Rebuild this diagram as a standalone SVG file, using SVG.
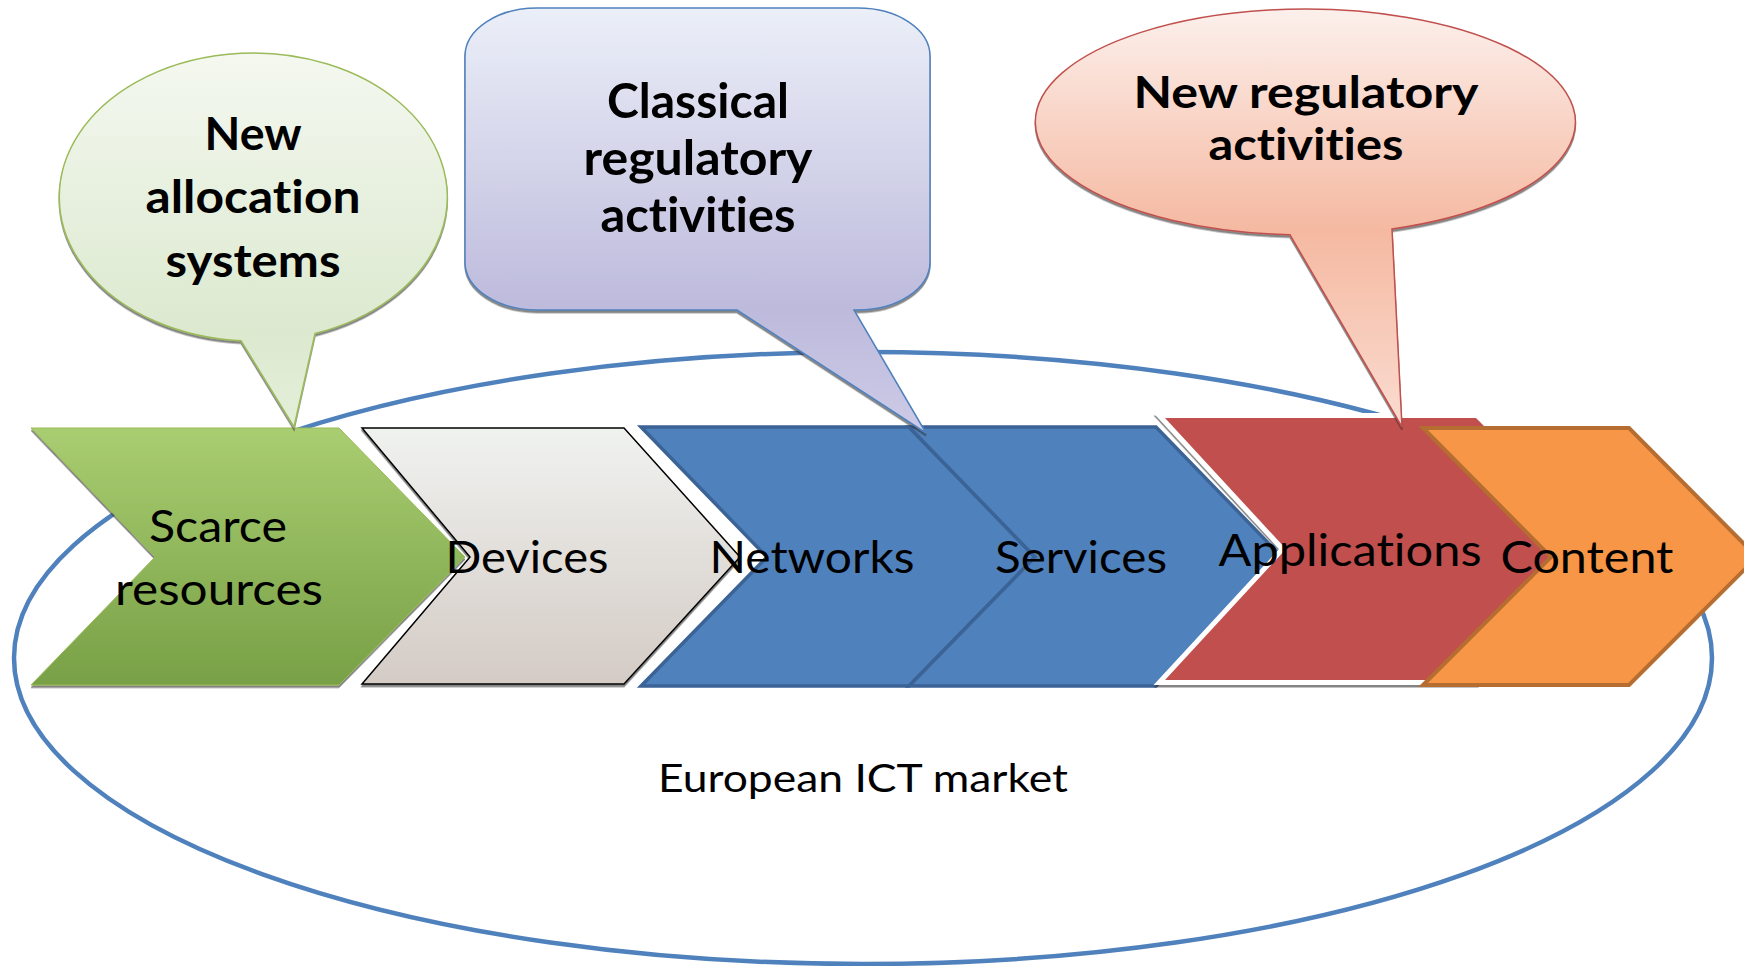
<svg xmlns="http://www.w3.org/2000/svg" width="1744" height="966" viewBox="0 0 1744 966">
<style>
.bt,.lt{font-family:Lato,"Liberation Sans",sans-serif;fill:#000;text-anchor:middle;font-variant-ligatures:none;font-feature-settings:"liga" 0,"clig" 0,"dlig" 0}
.bt{font-weight:bold}
.lt{font-weight:normal}
</style>
<defs>
<filter id="sh" x="-5%" y="-5%" width="110%" height="115%">
<feDropShadow dx="0" dy="2.5" stdDeviation="0.7" flood-color="#333" flood-opacity="0.6"/>
</filter>
<linearGradient id="gGreenB" x1="0" y1="0" x2="0" y2="1">
<stop offset="0" stop-color="#f4f8f0"/><stop offset="0.75" stop-color="#dce9cf"/><stop offset="1" stop-color="#e4efd9"/>
</linearGradient>
<linearGradient id="gBlueB" x1="0" y1="0" x2="0" y2="1">
<stop offset="0" stop-color="#ebeff8"/><stop offset="0.71" stop-color="#bdbadc"/><stop offset="1" stop-color="#cdcbe7"/>
</linearGradient>
<linearGradient id="gRedB" x1="0" y1="0" x2="0" y2="1">
<stop offset="0" stop-color="#fcf0ec"/><stop offset="0.53" stop-color="#f5b9a1"/><stop offset="1" stop-color="#fadcd1"/>
</linearGradient>
<linearGradient id="gGreenC" x1="0" y1="0" x2="0" y2="1">
<stop offset="0" stop-color="#a9cd71"/><stop offset="1" stop-color="#78a046"/>
</linearGradient>
<linearGradient id="gGrayC" x1="0" y1="0" x2="0" y2="1">
<stop offset="0" stop-color="#f0f2f0"/><stop offset="1" stop-color="#d4cbc5"/>
</linearGradient>
</defs>
<rect width="1744" height="966" fill="#fff"/>
<g id="market">
<ellipse cx="863" cy="658" rx="849" ry="306" fill="none" stroke="#4f81bd" stroke-width="4.5"/>
<text class="lt" x="863" y="792" font-size="39" textLength="410" lengthAdjust="spacingAndGlyphs">European ICT market</text>
</g>
<g id="connectors"></g>
<g id="scarce">
<path d="M31,428 L339,428 L465,557 L339,685 L31,685 L155,557 Z" fill="url(#gGreenC)" stroke="#9bbb59" stroke-width="1" filter="url(#sh)"/>
<text class="lt" x="218" y="542" font-size="45" textLength="138" lengthAdjust="spacingAndGlyphs">Scarce</text>
<text class="lt" x="219" y="605" font-size="45" textLength="208" lengthAdjust="spacingAndGlyphs">resources</text>
</g>
<g id="devices">
<path d="M362,428 L624,428 L740,557 L624,684 L362,684 L470,557 Z" fill="url(#gGrayC)" stroke="#000" stroke-width="1.5" filter="url(#sh)"/>
<text class="lt" x="527" y="573" font-size="45" textLength="163" lengthAdjust="spacingAndGlyphs">Devices</text>
</g>
<g id="networks">
<path d="M641,427 L909,427 L1035,557 L909,686 L641,686 L767,557 Z" fill="#4f81bd" stroke="#3b6396" stroke-width="3.5"/>
<text class="lt" x="812" y="573" font-size="45" textLength="205" lengthAdjust="spacingAndGlyphs">Networks</text>
</g>
<g id="services">
<path d="M909,427 L1156,427 L1282,557 L1156,686 L909,686 L1035,557 Z" fill="#4f81bd" stroke="#3b6396" stroke-width="3.5"/>
<text class="lt" x="1081" y="573" font-size="45" textLength="172" lengthAdjust="spacingAndGlyphs">Services</text>
</g>
<g id="applications">
<path d="M1165,418 L1476,418 L1607,549 L1476,680 L1165,680 L1286,549 Z" fill="#c0504d" stroke="#fff" stroke-width="10" paint-order="stroke" filter="url(#sh)"/>
<text class="lt" x="1350" y="566" font-size="45" textLength="263" lengthAdjust="spacingAndGlyphs">Applications</text>
</g>
<g id="content">
<path d="M1423,428 L1629,428 L1757,557 L1629,685 L1423,685 L1551,557 Z" fill="#f79646" stroke="#b66d31" stroke-width="4"/>
<text class="lt" x="1587" y="573" font-size="45" textLength="173" lengthAdjust="spacingAndGlyphs">Content</text>
</g>
<g id="bubble-allocation">
<path d="M241,340.7 L294,427 L315,333.5 A194 144 0 1 0 241,340.7 Z" fill="url(#gGreenB)" stroke="#9bbb59" stroke-width="1.5" filter="url(#sh)"/>
<text class="bt" x="253" y="150" font-size="46" textLength="97" lengthAdjust="spacingAndGlyphs">New</text>
<text class="bt" x="253" y="213" font-size="46" textLength="215" lengthAdjust="spacingAndGlyphs">allocation</text>
<text class="bt" x="253" y="277" font-size="46" textLength="175" lengthAdjust="spacingAndGlyphs">systems</text>
</g>
<g id="bubble-classical">
<path d="M537,8 H858 A72 48 0 0 1 930,56 V262 A72 48 0 0 1 858,310 H854 L926,433 L737,310 H537 A72 48 0 0 1 465,262 V56 A72 48 0 0 1 537,8 Z" fill="url(#gBlueB)" stroke="#4f81bd" stroke-width="1.5" filter="url(#sh)"/>
<text class="bt" x="698" y="118" font-size="48" textLength="182" lengthAdjust="spacingAndGlyphs">Classical</text>
<text class="bt" x="698" y="175" font-size="48" textLength="229" lengthAdjust="spacingAndGlyphs">regulatory</text>
<text class="bt" x="698" y="232" font-size="48" textLength="195" lengthAdjust="spacingAndGlyphs">activities</text>
</g>
<g id="bubble-new-regulatory">
<path d="M1290,234.8 L1402,427 L1392,229 A270 113 0 1 0 1290,234.8 Z" fill="url(#gRedB)" stroke="#c0504d" stroke-width="1.5" filter="url(#sh)"/>
<text class="bt" x="1306" y="108" font-size="43" textLength="345" lengthAdjust="spacingAndGlyphs">New regulatory</text>
<text class="bt" x="1306" y="160" font-size="43" textLength="195" lengthAdjust="spacingAndGlyphs">activities</text>
</g>
</svg>
